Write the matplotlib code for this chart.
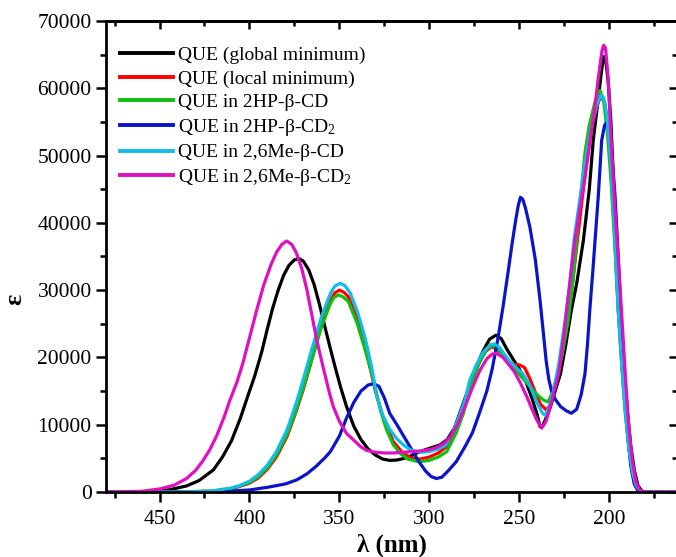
import matplotlib
matplotlib.use("Agg")
import matplotlib.pyplot as plt
from matplotlib.ticker import MultipleLocator

plt.rcParams['font.family'] = ['Liberation Serif', 'DejaVu Serif']
plt.rcParams['mathtext.fontset'] = 'custom'
plt.rcParams['mathtext.rm'] = 'Liberation Serif'
plt.rcParams['mathtext.it'] = 'Liberation Serif:italic'
plt.rcParams['mathtext.bf'] = 'Liberation Serif:bold'

labels = ["QUE (global minimum)", "QUE (local minimum)", "QUE in 2HP-\u03b2-CD",
          "QUE in 2HP-\u03b2-CD$_2$", "QUE in 2,6Me-\u03b2-CD", "QUE in 2,6Me-\u03b2-CD$_2$"]
colors = ["#000000", "#ff0000", "#10c010", "#0a14c8", "#12bce8", "#e010c0"]

lam_black = [480, 465, 455, 445, 435, 428, 420, 415, 410, 405, 401, 397, 393, 390, 387, 384, 381, 378, 375, 372.5,
             370, 367, 364, 361, 358, 355, 352, 349, 346, 342, 338, 334, 330, 326, 322, 318, 314, 310, 306, 302,
             298, 294, 290, 286, 282, 278, 274, 270, 266.5, 263, 260, 257, 254, 250, 246.5, 243, 240, 238.4, 237, 235,
             232.8, 230, 227, 224, 221, 218, 214.3, 211, 208.8, 206, 204, 203, 202, 200.5, 199, 197.5, 196, 194, 192, 190,
             188, 186, 184, 182, 180, 162]
eps_black = [0, 0, 80, 300, 900, 1700, 3300, 5200, 7600, 11000, 14200, 17300, 21000, 24300, 27400, 30000, 32200, 33700, 34500, 34700,
             34300, 33000, 30800, 27800, 24500, 21300, 18200, 15300, 12700, 9800, 7800, 6400, 5500, 4900, 4700, 4750, 5000, 5400, 5900, 6300,
             6650, 7000, 7800, 9500, 12500, 15500, 18500, 21000, 22700, 23300, 22800, 21300, 20000, 18300, 16600, 14000, 11500, 9700, 9800, 11000,
             12500, 15000, 17600, 22000, 27000, 31000, 37400, 45000, 52300, 58500, 63000, 64700, 64500, 61000, 55000, 46000, 38500, 28000, 19500, 12500,
             7000, 3300, 1000, 200, 0, 0]

lam_red = [480, 440, 420, 410, 400, 395, 390, 385, 379, 374, 370, 365, 360, 355, 352.5, 350, 347.5, 345, 340, 335,
           330, 325, 320, 315, 310, 305, 300, 295, 290, 285, 281, 277, 273, 269, 265.5, 262, 258, 254, 250, 247,
           244, 241, 238, 235, 233, 230, 227, 224, 221, 218, 215, 212, 209, 206, 204, 202.5, 201, 199, 197, 195,
           193, 191, 189, 187, 185, 183, 181, 162]
eps_red = [0, 0, 120, 450, 1300, 2100, 3400, 5200, 8300, 12000, 15300, 20000, 24800, 28500, 29600, 30000, 29700, 29000, 25800, 21000,
           15000, 10500, 7500, 5900, 5000, 4900, 5200, 5800, 6800, 9200, 12000, 15800, 18800, 20800, 21600, 21200, 19800, 19000, 18900, 18500,
           16800, 14800, 13000, 12200, 12800, 16000, 19500, 24000, 29500, 36500, 43500, 50000, 55000, 58000, 58700, 58000, 55000, 48000, 38500, 27500,
           19000, 12000, 6500, 2800, 800, 100, 0, 0]

lam_green = [480, 440, 420, 410, 400, 395, 390, 385, 379, 374, 370, 365, 360, 355, 353, 350.5, 348, 345, 340, 335,
             331, 327, 323.7, 320, 316, 312, 306, 300, 295, 290.3, 285, 281, 276, 272, 268, 265, 262, 258, 254, 250,
             246, 242, 239, 236, 234, 232, 229, 226, 222.7, 220, 217, 215, 213.4, 211, 208, 206, 205, 203, 201, 199,
             197, 195, 193, 191, 189, 187, 185, 183, 181, 162]
eps_green = [0, 0, 150, 500, 1400, 2300, 3600, 5500, 8600, 12200, 15500, 20000, 24500, 28000, 28900, 29300, 29000, 28300, 25000, 20500,
             16600, 12000, 9200, 7000, 5700, 4900, 4500, 4700, 5200, 6000, 8800, 11700, 16600, 19300, 21300, 21800, 21300, 19800, 18600, 17500,
             16300, 15000, 14200, 13600, 13400, 14500, 17000, 20500, 25600, 31500, 41000, 46000, 50500, 54500, 57800, 59300, 59700, 58000, 53500, 46500,
             37500, 27500, 19500, 12000, 6500, 2800, 800, 100, 0, 0]

lam_blue = [480, 420, 400, 390, 380, 373.7, 368, 363, 358, 355, 350, 346, 342, 338, 334, 331, 328, 325, 322, 318,
            314, 310, 306, 302, 299, 296, 293, 290, 285, 280, 276, 272, 268, 265, 262, 259, 256, 254, 252, 250.5,
            249.3, 248, 246.5, 244, 241, 238.4, 236.5, 235, 233.5, 232, 230, 227, 224, 221, 218, 215.5, 213.4, 212, 210.6, 209,
            207.8, 206, 204.1, 202.5, 201.3, 200, 198.5, 196.7, 195, 193.5, 192, 190, 188, 186, 184, 182, 162]
eps_blue = [0, 0, 300, 700, 1200, 1800, 2700, 3800, 5100, 6000, 8300, 11000, 13300, 15000, 15900, 16100, 15700, 14000, 11700, 10000,
            8200, 6400, 4600, 3100, 2300, 2000, 2200, 3000, 4500, 6800, 8800, 11800, 15000, 18300, 22500, 27500, 33000, 36800, 40300, 42600,
            43800, 43500, 42200, 39300, 34500, 28500, 23500, 19500, 16700, 15000, 13800, 12700, 12100, 11700, 12300, 14500, 17600, 22000, 27500, 33000,
            37400, 44000, 52300, 54500, 55000, 54000, 50500, 44000, 35500, 27000, 19000, 10000, 4000, 1200, 200, 0, 0]

lam_cyan = [480, 440, 430, 420, 410, 405, 400, 395, 390, 385, 379, 374, 370, 365, 360, 355, 352.5, 349.6, 347, 344,
            340, 337.5, 335.4, 332, 329.2, 326, 322, 318, 314, 310, 305, 300, 295, 291, 287, 283, 280, 277.5, 274, 270,
            266, 264, 261, 257, 253, 248, 244, 240, 237, 235.6, 233.5, 231, 228, 225, 222, 219.5, 216, 213, 210, 207,
            204.5, 203, 201, 199, 197, 195, 193, 191, 189, 187, 185, 183, 181, 162]
eps_cyan = [0, 0, 50, 200, 600, 1000, 1600, 2600, 4000, 6000, 9300, 13200, 16800, 21500, 26000, 29500, 30600, 31000, 30700, 29600,
            26800, 24600, 22600, 18500, 14200, 11500, 9300, 7900, 6900, 6200, 5900, 6000, 6400, 6900, 8800, 11500, 13800, 16600, 18800, 20800,
            21900, 22000, 21500, 20000, 18800, 17600, 15800, 13200, 11700, 11400, 12500, 15000, 19000, 24500, 30500, 37500, 44000, 49500, 54000, 57500,
            59000, 58600, 55500, 49000, 39000, 27500, 19000, 12000, 6500, 3000, 1000, 200, 0, 0]

lam_magenta = [480, 460, 450, 442, 435, 430, 426, 422, 418, 414, 410.8, 407, 403.6, 400, 396, 392, 388, 385, 382, 379.3,
               376.5, 374, 371, 368, 365, 362.6, 359, 355.5, 353.4, 350, 346, 342, 338, 335, 330, 325, 320, 315, 310, 305,
               300, 296, 292, 288, 284, 280, 276, 272, 268, 265, 262.5, 259, 256, 253, 249.5, 245.8, 243, 240.2, 237.5, 235,
               232.8, 230, 228, 225.5, 223.6, 221, 219, 216, 213, 210.6, 208, 206, 204, 203, 202, 200.5, 198.5, 196.5, 194.5, 193,
               191, 189, 187, 185, 183, 181, 162]
eps_magenta = [0, 100, 450, 1000, 2000, 3200, 4600, 6300, 8500, 11200, 13700, 16300, 19200, 22900, 27000, 30800, 33800, 35600, 36800, 37300,
               36800, 35600, 33300, 30000, 25900, 22600, 18500, 14700, 12700, 10500, 8700, 7700, 6700, 6200, 5900, 5800, 5800, 5900, 6000, 6100,
               6300, 6600, 7200, 8300, 10200, 12800, 15500, 18000, 19800, 20500, 20600, 20000, 19000, 18000, 16300, 14200, 12400, 10700, 9500, 10500,
               12700, 15500, 17600, 22500, 27000, 33000, 37400, 42500, 47500, 52300, 57000, 61500, 65500, 66400, 66000, 61500, 50300, 41000, 33000, 26500,
               17500, 9500, 4500, 1500, 300, 0, 0]

series = [(lam_black, eps_black), (lam_red, eps_red), (lam_green, eps_green),
          (lam_blue, eps_blue), (lam_cyan, eps_cyan), (lam_magenta, eps_magenta)]

x_major = [450, 400, 350, 300, 250, 200]
y_major = [0, 10000, 20000, 30000, 40000, 50000, 60000, 70000]

fig = plt.figure(figsize=(6.76, 5.57), dpi=100)
ax = fig.add_axes([0.1562, 0.1167, 0.8459, 0.8456])

for (lx, ey), lab, c in zip(series, labels, colors):
    ax.plot(lx, ey, color=c, lw=2.3, label=lab, solid_joinstyle='round')

ax.set_xlim(480, 162)
ax.set_ylim(0, 70000)
ax.set_xticks(x_major)
ax.set_yticks(y_major)
ax.xaxis.set_minor_locator(MultipleLocator(25))
ax.yaxis.set_minor_locator(MultipleLocator(5000))
ax.tick_params(axis='both', which='major', direction='out', length=7, width=1.8, labelsize=15.5, pad=6)
ax.tick_params(axis='both', which='minor', direction='out', length=4, width=1.8)
ax.tick_params(axis='y', which='major', pad=3)
for s in ax.spines.values():
    s.set_linewidth(2)

secx = ax.secondary_xaxis('top')
secx.set_xticks(x_major)
secx.xaxis.set_minor_locator(MultipleLocator(25))
secx.tick_params(which='major', direction='in', length=6, width=1.8, labeltop=False)
secx.tick_params(which='minor', direction='in', length=3.5, width=1.8)
secx.spines['top'].set_linewidth(2)

secy = ax.secondary_yaxis('right')
secy.set_yticks(y_major)
secy.yaxis.set_minor_locator(MultipleLocator(5000))
secy.tick_params(which='major', direction='in', length=6, width=1.8, labelright=False)
secy.tick_params(which='minor', direction='in', length=3.5, width=1.8)
secy.spines['right'].set_linewidth(2)

ax.set_xlabel("\u03bb (nm)", fontsize=18, fontweight='bold')
ax.set_ylabel("\u03b5", fontsize=19, fontweight='bold')
ax.xaxis.set_label_coords(0.50, -0.089)
ax.yaxis.set_label_coords(-0.138, 0.41)

leg = ax.legend(loc='upper left', bbox_to_anchor=(0.025, 0.946), frameon=False, fontsize=14,
                handlelength=2.75, handletextpad=0.25, labelspacing=0.3, borderpad=0, borderaxespad=0)
for h in leg.get_lines():
    h.set_linewidth(2.8)

fig.savefig("out.png", dpi=100)
